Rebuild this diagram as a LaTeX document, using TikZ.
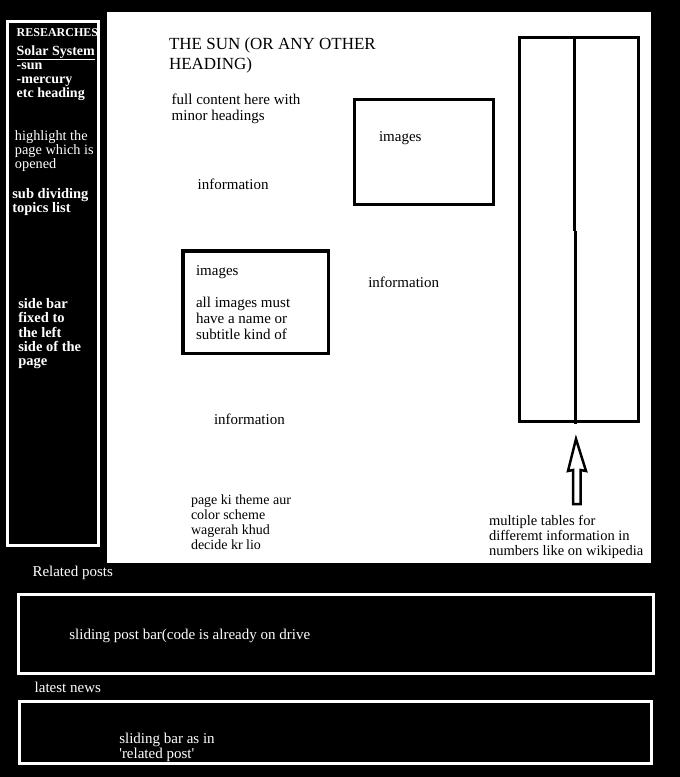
\documentclass[tikz,border=0pt]{standalone}
\usepackage{fontspec}
\setmainfont{Liberation Serif}
\newcommand\mylines[1]{\begin{tabular}[t]{@{}l@{}}#1\end{tabular}}
\begin{document}
\begin{tikzpicture}[x=1pt,y=-1pt,
  txt/.style={anchor=base west, inner sep=0pt, outer sep=0pt},
  side/.style={txt, text=white, font=\fontsize{14.5}{14}\selectfont\bfseries},
  sidereg/.style={txt, text=white, font=\fontsize{14.3}{14}\selectfont},
  body/.style={txt, text=black, font=\fontsize{15}{16}\selectfont},
  small/.style={txt, text=black, font=\fontsize{14}{15}\selectfont},
  foot/.style={txt, text=white, font=\fontsize{15}{15}\selectfont},
  wbox/.style={draw=white, line width=3pt},
  bbox/.style={draw=black, line width=3pt}]
\useasboundingbox (0,0) rectangle (680,777);
\fill[black] (0,0) rectangle (680,777);
% content area
\fill[white] (107,12) rectangle (651,563);
% sidebar
\draw[wbox] (7.7,21) rectangle (98.2,545);
\node[side, font=\fontsize{12}{12}\selectfont\bfseries] (res) at (16.7,36.7) {RESEARCHES};
\node[side, font=\fontsize{14}{14}\selectfont\bfseries] (solar) at (16.7,55) {\underline{Solar System}};
\node[side, font=\fontsize{14}{14}\selectfont\bfseries] (planets) at (16.7,69.3) {\mylines{-sun\\-mercury\\etc heading}};
\node[sidereg] (hl) at (15,140) {\mylines{highlight the\\page which is\\opened}};
\node[side, font=\fontsize{14.5}{14.4}\selectfont\bfseries] (sub) at (12.3,198.3) {\mylines{sub dividing\\topics list}};
\node[side] (fixed) at (18.3,308.3) {\mylines{side bar\\fixed to\\the left\\side of the\\page}};
% heading and text
\node[txt, font=\fontsize{17}{20}\selectfont] (head) at (169,49.3) {\mylines{THE SUN (OR ANY OTHER\\HEADING)}};
\node[body] (full) at (171.7,104) {\mylines{full content here with\\minor headings}};
\node[body] (info1) at (197.7,189) {information};
% image boxes
\draw[bbox] (354,99) rectangle (493.5,204);
\node[body] (img1) at (379,141.7) {images};
\draw[bbox, line width=3.5pt] (183,251) rectangle (328.5,353.5);
\node[body] (img2) at (196,275) {\mylines{images\\ \\all images must\\have a name or\\subtitle kind of}};
\node[body] (info2) at (368.3,287.7) {information};
\node[body] (info3) at (214,424) {information};
\node[small] (theme) at (191,504.3) {\mylines{page ki theme aur\\color scheme\\wagerah khud\\decide kr lio}};
% tables
\draw[bbox] (519.8,37.7) rectangle (638.3,421.3);
\draw[black, line width=3.5pt] (574.7,37.7) -- (574.7,230.7);
\draw[black, line width=3.5pt] (575.7,230.7) -- (575.7,424);
\draw[black, line width=2.5pt, line join=miter] (576,439) -- (568,471) -- (573,470) -- (573,504) -- (580.5,504) -- (580.5,470) -- (586,471) -- cycle;
\node[small, font=\fontsize{14.5}{15}\selectfont] (tables) at (489,525) {\mylines{multiple tables for\\differemt information in\\numbers like on wikipedia}};
% bottom bars
\node[foot] (rel) at (32.5,576.7) {Related posts};
\draw[wbox] (18,594) rectangle (653.3,673);
\node[foot] (slide1) at (69.4,639) {sliding post bar(code is already on drive};
\node[foot] (news) at (34.7,692.3) {latest news};
\draw[wbox] (19.5,701.7) rectangle (651.3,763.5);
\node[foot] (slide2) at (119.3,743.3) {\mylines{sliding bar as in\\\textquotesingle related post\textquotesingle}};
\end{tikzpicture}
\end{document}
